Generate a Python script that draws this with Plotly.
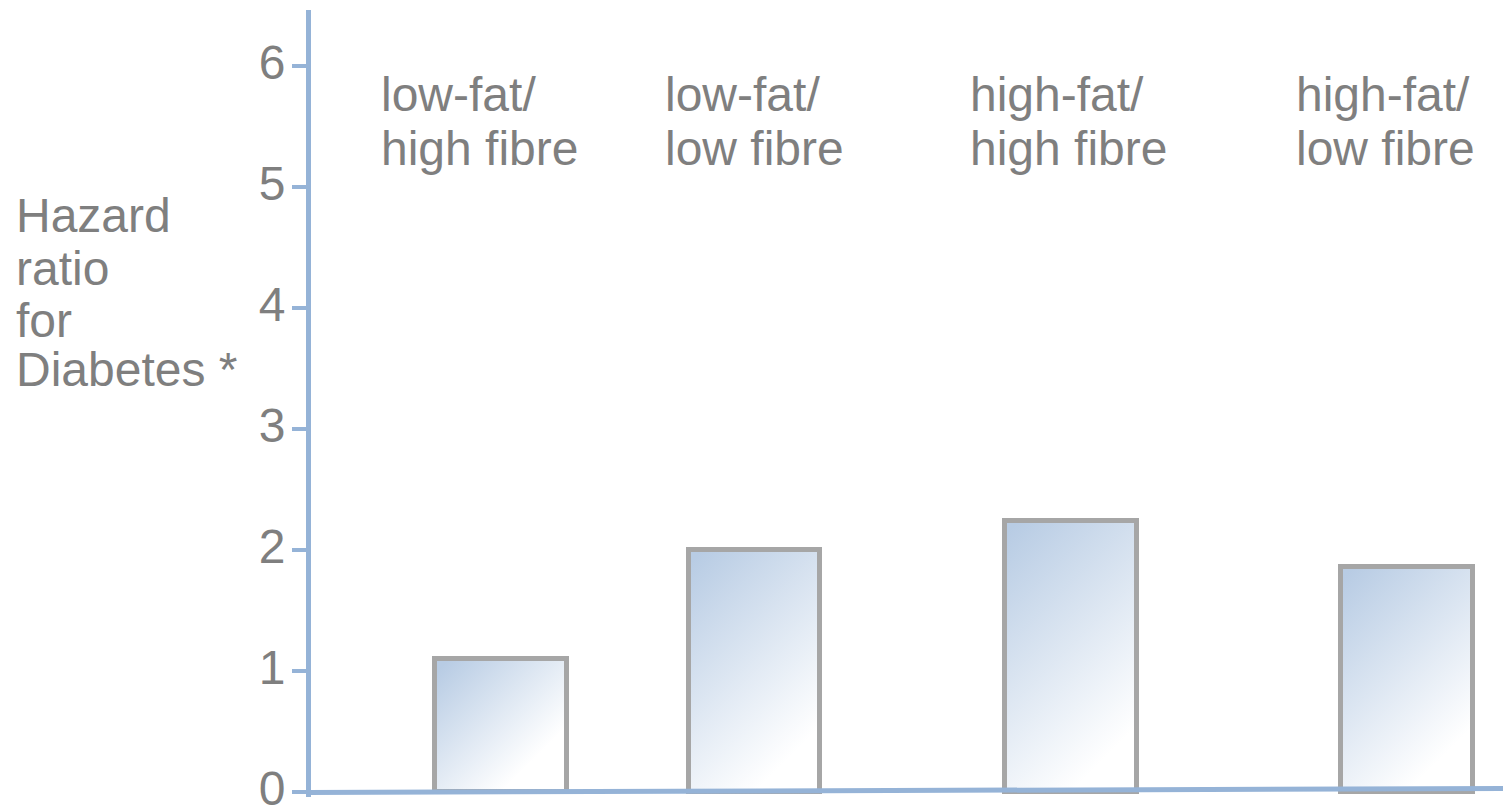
import base64
import plotly.graph_objects as go

# ---- data ----
categories = ["low-fat/<br>high fibre", "low-fat/<br>low fibre",
              "high-fat/<br>high fibre", "high-fat/<br>low fibre"]
label_lines = [["low-fat/", "high fibre"], ["low-fat/", "low fibre"],
               ["high-fat/", "high fibre"], ["high-fat/", "low fibre"]]
hazard_ratio = [1.1, 2.0, 2.24, 1.86]
y_ticks = [0, 1, 2, 3, 4, 5, 6]
y_title_lines = ["Hazard", "ratio", "for", "Diabetes *"]

# ---- layout helpers (pixel geometry) ----
W, H = 1503, 806
L, R, T, B = 311, 0, 10, 9
YMIN, YMAX = -0.04, 6.46
XMAX = 4.0
plot_w = W - L - R
plot_h = H - T - B
ppu = plot_h / (YMAX - YMIN)  # pixels per y unit


def px_x(px):
    return (px - L) / plot_w * XMAX


def px_y(py):
    return YMIN + (H - B - py) / ppu


bar_x = [px_x(p) for p in (501, 754.5, 1071, 1407)]
bar_w = 0.44
bar_w_px = bar_w / XMAX * plot_w
label_left = [px_x(p) for p in (379, 663, 968, 1294)]

AXIS = "#95b3d7"
TEXT = "#7f7f7f"
EDGE = "#a6a6a6"
FONT = "Liberation Sans, Arial, sans-serif"
FS = 48


def gradient_src(w, h):
    c0 = 0.1 * w
    c1 = h + 0.5 * w
    svg = (f"<svg xmlns='http://www.w3.org/2000/svg' width='{w:.1f}' height='{h:.1f}' "
           f"viewBox='0 0 {w:.1f} {h:.1f}' preserveAspectRatio='none'>"
           f"<defs><linearGradient id='g' gradientUnits='userSpaceOnUse' "
           f"x1='{c0/2:.1f}' y1='{c0/2:.1f}' x2='{c1/2:.1f}' y2='{c1/2:.1f}'>"
           "<stop offset='0' stop-color='#b8cce4'/>"
           "<stop offset='1' stop-color='#ffffff'/>"
           "</linearGradient></defs>"
           f"<rect width='{w:.1f}' height='{h:.1f}' fill='url(#g)'/></svg>")
    return "data:image/svg+xml;base64," + base64.b64encode(svg.encode()).decode()


fig = go.Figure()
fig.add_trace(go.Bar(
    x=bar_x, y=hazard_ratio, width=bar_w,
    marker=dict(color="rgba(0,0,0,0)", line=dict(color=EDGE, width=5)),
    hovertext=[c.replace("<br>", " ") for c in categories],
    showlegend=False,
))

images = []
for xc, v in zip(bar_x, hazard_ratio):
    images.append(dict(source=gradient_src(bar_w_px, v * ppu),
                       xref="x", yref="y", x=xc - bar_w / 2, y=v,
                       sizex=bar_w, sizey=v, sizing="stretch",
                       xanchor="left", yanchor="top", layer="below"))

annotations = []
for xl, lines in zip(label_left, label_lines):
    for py, txt in zip((94, 148), lines):
        annotations.append(dict(text=txt, x=xl, y=px_y(py), xref="x", yref="y",
                                xanchor="left", yanchor="middle", showarrow=False,
                                font=dict(size=FS, color=TEXT, family=FONT)))
for py, txt in zip((215, 268, 320, 369), y_title_lines):
    annotations.append(dict(text=txt, x=(14 - L) / plot_w, y=px_y(py),
                            xref="paper", yref="y", xanchor="left",
                            yanchor="middle", showarrow=False,
                            font=dict(size=FS, color=TEXT, family=FONT)))

# slightly tilted baseline as in the original drawing
shapes = [dict(type="line", xref="paper", yref="y", x0=-0.003, x1=1,
               y0=px_y(792.5), y1=px_y(788.5),
               line=dict(color=AXIS, width=5), layer="above")]

fig.update_layout(
    width=W, height=H,
    margin=dict(l=L, r=R, t=T, b=B, pad=0, autoexpand=False),
    paper_bgcolor="white", plot_bgcolor="white",
    images=images, annotations=annotations, shapes=shapes,
    font=dict(family=FONT, color=TEXT),
    xaxis=dict(range=[0, XMAX], showline=False, automargin=False,
               showgrid=False, zeroline=False, showticklabels=False, ticks=""),
    yaxis=dict(range=[YMIN, YMAX], showline=True, linecolor=AXIS, linewidth=5,
               automargin=False,
               showgrid=False, zeroline=False, tickvals=y_ticks,
               ticks="outside", ticklen=14, tickwidth=4, tickcolor=AXIS,
               tickfont=dict(size=FS, color=TEXT, family=FONT),
               ticklabelstandoff=-3, ticklabelshift=-4,
               ticklabeloverflow="allow"),
    bargap=0,
)

fig.write_html("out.html")
